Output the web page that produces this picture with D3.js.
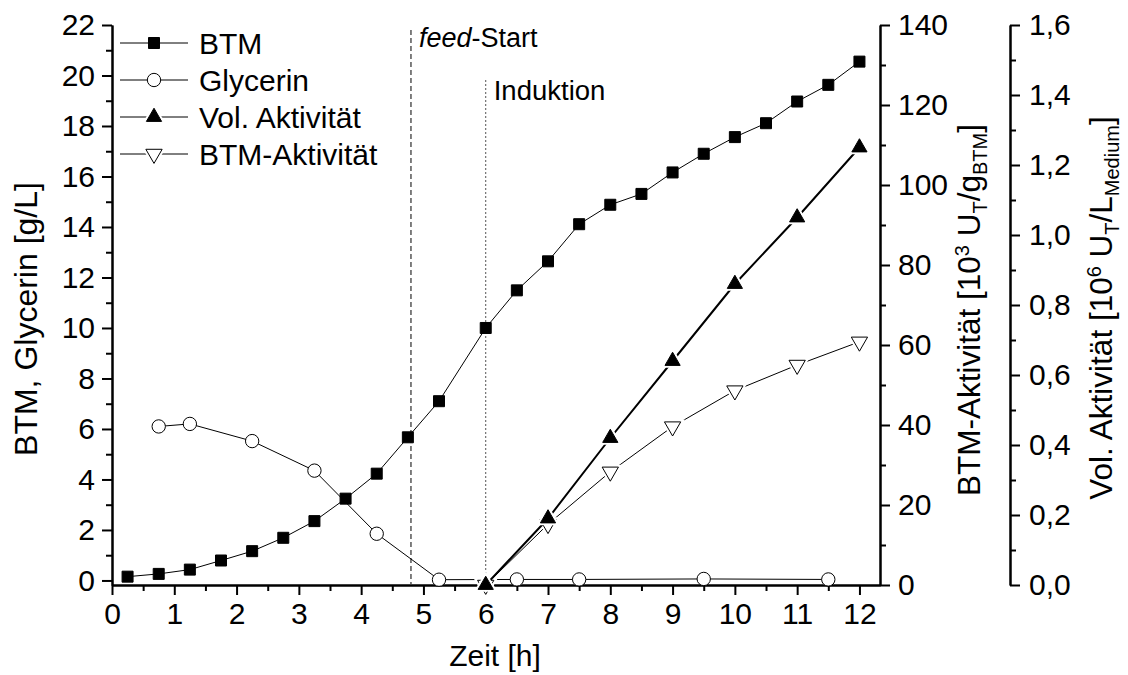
<!DOCTYPE html>
<html>
<head>
<meta charset="utf-8">
<script src="https://cdn.jsdelivr.net/npm/d3@7/dist/d3.min.js"></script>
<style>
  html, body { margin: 0; padding: 0; background: #fff; }
  svg { display: block; font-family: "Liberation Sans", Arial, sans-serif; }
  .axis path, .axis line { stroke: #000; stroke-width: 2px; }
  .axis text { font-size: 30px; fill: #000; font-family: "Liberation Sans", Arial, sans-serif; }
</style>
</head>
<body>
<svg id="chart" width="1128" height="675"></svg>
<script>
// Fermentation time course: biomass (BTM), glycerol and enzyme activities
const btmTime  = [0.25, 0.75, 1.25, 1.75, 2.25, 2.75, 3.25, 3.75, 4.25, 4.75, 5.25, 6.0, 6.5, 7.0, 7.5, 8.0, 8.5, 9.0, 9.5, 10.0, 10.5, 11.0, 11.5, 12.0];
const btmValue = [0.15, 0.26, 0.43, 0.79, 1.16, 1.69, 2.35, 3.24, 4.23, 5.67, 7.1, 10.0, 11.49, 12.64, 14.11, 14.88, 15.31, 16.16, 16.9, 17.56, 18.11, 18.97, 19.63, 20.55];

const glyTime  = [0.75, 1.25, 2.25, 3.25, 4.25, 5.25, 6.5, 7.5, 9.5, 11.5];
const glyValue = [6.1, 6.2, 5.52, 4.35, 1.85, 0.03, 0.04, 0.04, 0.06, 0.04];

const actTime     = [6, 7, 8, 9, 10, 11, 12];
const volActivity = [0, 0.19, 0.42, 0.64, 0.86, 1.05, 1.25];   // 10^6 U_T / L_Medium
const btmActivity = [0, 15.2, 28.3, 39.6, 48.6, 55, 60.8];     // 10^3 U_T / g_BTM

const xTicks     = d3.range(0, 13, 1);
const xMinor     = d3.range(0.5, 12.5, 1);
const leftTicks  = d3.range(0, 23, 2);
const leftMinor  = d3.range(1, 22, 2);
const btmTicks   = d3.range(0, 141, 20);
const btmMinor   = d3.range(10, 140, 20);
const volTicks   = [0, 0.2, 0.4, 0.6, 0.8, 1.0, 1.2, 1.4, 1.6];
const volMinor   = [0.1, 0.3, 0.5, 0.7, 0.9, 1.1, 1.3, 1.5];

const feedStart = 4.8;
const induction = 6.0;

const legendNames = ["BTM", "Glycerin", "Vol. Aktivität", "BTM-Aktivität"];

const svg = d3.select("#chart");

const x  = d3.scaleLinear().domain([0, 12.33]).range([112, 880]);
const yL = d3.scaleLinear().domain([-0.18, 22]).range([585, 25]);
const yB = d3.scaleLinear().domain([0, 140]).range([585, 25]);
const yV = d3.scaleLinear().domain([0, 1.6]).range([585, 25]);

const comma = v => d3.format(".1f")(v).replace(".", ",");

// ---- axes ----
function addAxis(axis, transform) {
  const g = svg.append("g").attr("class", "axis").attr("transform", transform).call(axis);
  g.select(".domain").attr("stroke-width", 2);
  return g;
}

addAxis(d3.axisBottom(x).tickValues(xMinor).tickSize(6).tickFormat("").tickSizeOuter(0), "translate(0,585)");
addAxis(d3.axisBottom(x).tickValues(xTicks).tickSize(10).tickPadding(8).tickSizeOuter(0), "translate(0,585)");

addAxis(d3.axisLeft(yL).tickValues(leftMinor).tickSize(6).tickFormat("").tickSizeOuter(0), "translate(112,0)");
addAxis(d3.axisLeft(yL).tickValues(leftTicks).tickSize(10).tickPadding(7).tickSizeOuter(0), "translate(112,0)");

addAxis(d3.axisRight(yB).tickValues(btmMinor).tickSize(6).tickFormat("").tickSizeOuter(0), "translate(880,0)");
addAxis(d3.axisRight(yB).tickValues(btmTicks).tickSize(10).tickPadding(8).tickSizeOuter(0), "translate(880,0)");

addAxis(d3.axisRight(yV).tickValues(volMinor).tickSize(6).tickFormat("").tickSizeOuter(0), "translate(1010,0)");
addAxis(d3.axisRight(yV).tickValues(volTicks).tickSize(10).tickPadding(9).tickSizeOuter(0).tickFormat(comma), "translate(1010,0)");

// ---- axis titles ----
const title = (tx, ty, rot, fs) => svg.append("text")
  .attr("transform", `translate(${tx},${ty}) rotate(${rot})`)
  .attr("text-anchor", "middle")
  .attr("font-size", fs);

title(495, 666, 0, 30).text("Zeit [h]");
title(37, 319, -90, 32).text("BTM, Glycerin [g/L]");

const tB = title(980, 310, -90, 31.5);
tB.append("tspan").text("BTM-Aktivität  [10");
tB.append("tspan").attr("font-size", 20).attr("dy", -11).text("3");
tB.append("tspan").attr("dy", 11).text(" U");
tB.append("tspan").attr("font-size", 20).attr("dy", 7).text("T");
tB.append("tspan").attr("dy", -7).text("/g");
tB.append("tspan").attr("font-size", 20).attr("dy", 7).text("BTM");
tB.append("tspan").attr("dy", -7).text("]");

const tV = title(1112, 308, -90, 31.5);
tV.append("tspan").text("Vol. Aktivität  [10");
tV.append("tspan").attr("font-size", 20).attr("dy", -11).text("6");
tV.append("tspan").attr("dy", 11).text(" U");
tV.append("tspan").attr("font-size", 20).attr("dy", 7).text("T");
tV.append("tspan").attr("dy", -7).text("/L");
tV.append("tspan").attr("font-size", 20).attr("dy", 7).text("Medium");
tV.append("tspan").attr("dy", -7).text("]");

// ---- process markers ----
svg.append("line")
  .attr("x1", x(feedStart)).attr("x2", x(feedStart))
  .attr("y1", 30).attr("y2", 584)
  .attr("stroke", "#000").attr("stroke-width", 1).attr("stroke-dasharray", "5,3");
const ft = svg.append("text").attr("x", x(feedStart) + 8).attr("y", 47).attr("font-size", 27);
ft.append("tspan").attr("font-style", "italic").text("feed");
ft.append("tspan").text("-Start");

svg.append("line")
  .attr("x1", x(induction)).attr("x2", x(induction))
  .attr("y1", 80).attr("y2", 584)
  .attr("stroke", "#555").attr("stroke-width", 1).attr("stroke-dasharray", "2,2");
svg.append("text").attr("x", x(induction) + 8).attr("y", 100).attr("font-size", 27.5).text("Induktion");

// ---- marker shapes ----
const sq   = d3.symbol().type(d3.symbolSquare).size(121);
const circ = d3.symbol().type(d3.symbolCircle).size(140);
const triU = d3.symbol().type(d3.symbolTriangle).size(100);
const triUHalo = d3.symbol().type(d3.symbolTriangle).size(240);
const triD = d3.symbol().type(d3.symbolTriangle).size(115);
const triDHalo = d3.symbol().type(d3.symbolTriangle).size(260);

function series(times, values, yScale, opt) {
  const pts = times.map((t, i) => [x(t), yScale(values[i])]);
  svg.append("path")
    .attr("d", d3.line()(pts))
    .attr("fill", "none").attr("stroke", "#000").attr("stroke-width", opt.lw);
  const g = svg.append("g");
  pts.forEach(p => {
    if (opt.halo) {
      g.append("path").attr("d", opt.halo())
        .attr("transform", `translate(${p[0]},${p[1]})${opt.rot || ""}`)
        .attr("fill", "#fff");
    }
    g.append("path").attr("d", opt.shape())
      .attr("transform", `translate(${p[0]},${p[1]})${opt.rot || ""}`)
      .attr("fill", opt.fill).attr("stroke", "#000").attr("stroke-width", 1);
  });
}

series(glyTime, glyValue, yL, { shape: circ, fill: "#fff", lw: 1 });
series(actTime, btmActivity, yB, { shape: triD, halo: triDHalo, fill: "#fff", lw: 1, rot: " rotate(180)" });
series(actTime, volActivity, yV, { shape: triU, halo: triUHalo, fill: "#000", lw: 2 });
series(btmTime, btmValue, yL, { shape: sq, fill: "#000", lw: 1 });

// ---- legend ----
const legendShapes = [
  { shape: sq,   fill: "#000" },
  { shape: circ, fill: "#fff" },
  { shape: triU, halo: triUHalo, fill: "#000" },
  { shape: triD, halo: triDHalo, fill: "#fff", rot: " rotate(180)" }
];
const leg = svg.append("g").attr("transform", "translate(120,43)");
legendNames.forEach((name, i) => {
  const row = leg.append("g").attr("transform", `translate(0,${i * 37})`);
  row.append("line").attr("x1", 0).attr("x2", 68).attr("stroke", "#000").attr("stroke-width", 1);
  const s = legendShapes[i];
  if (s.halo) row.append("path").attr("d", s.halo()).attr("transform", `translate(34,0)${s.rot || ""}`).attr("fill", "#fff");
  row.append("path").attr("d", s.shape()).attr("transform", `translate(34,0)${s.rot || ""}`)
    .attr("fill", s.fill).attr("stroke", "#000").attr("stroke-width", 1);
  row.append("text").attr("x", 79).attr("y", 11).attr("font-size", 30).text(name);
});
</script>
</body>
</html>
